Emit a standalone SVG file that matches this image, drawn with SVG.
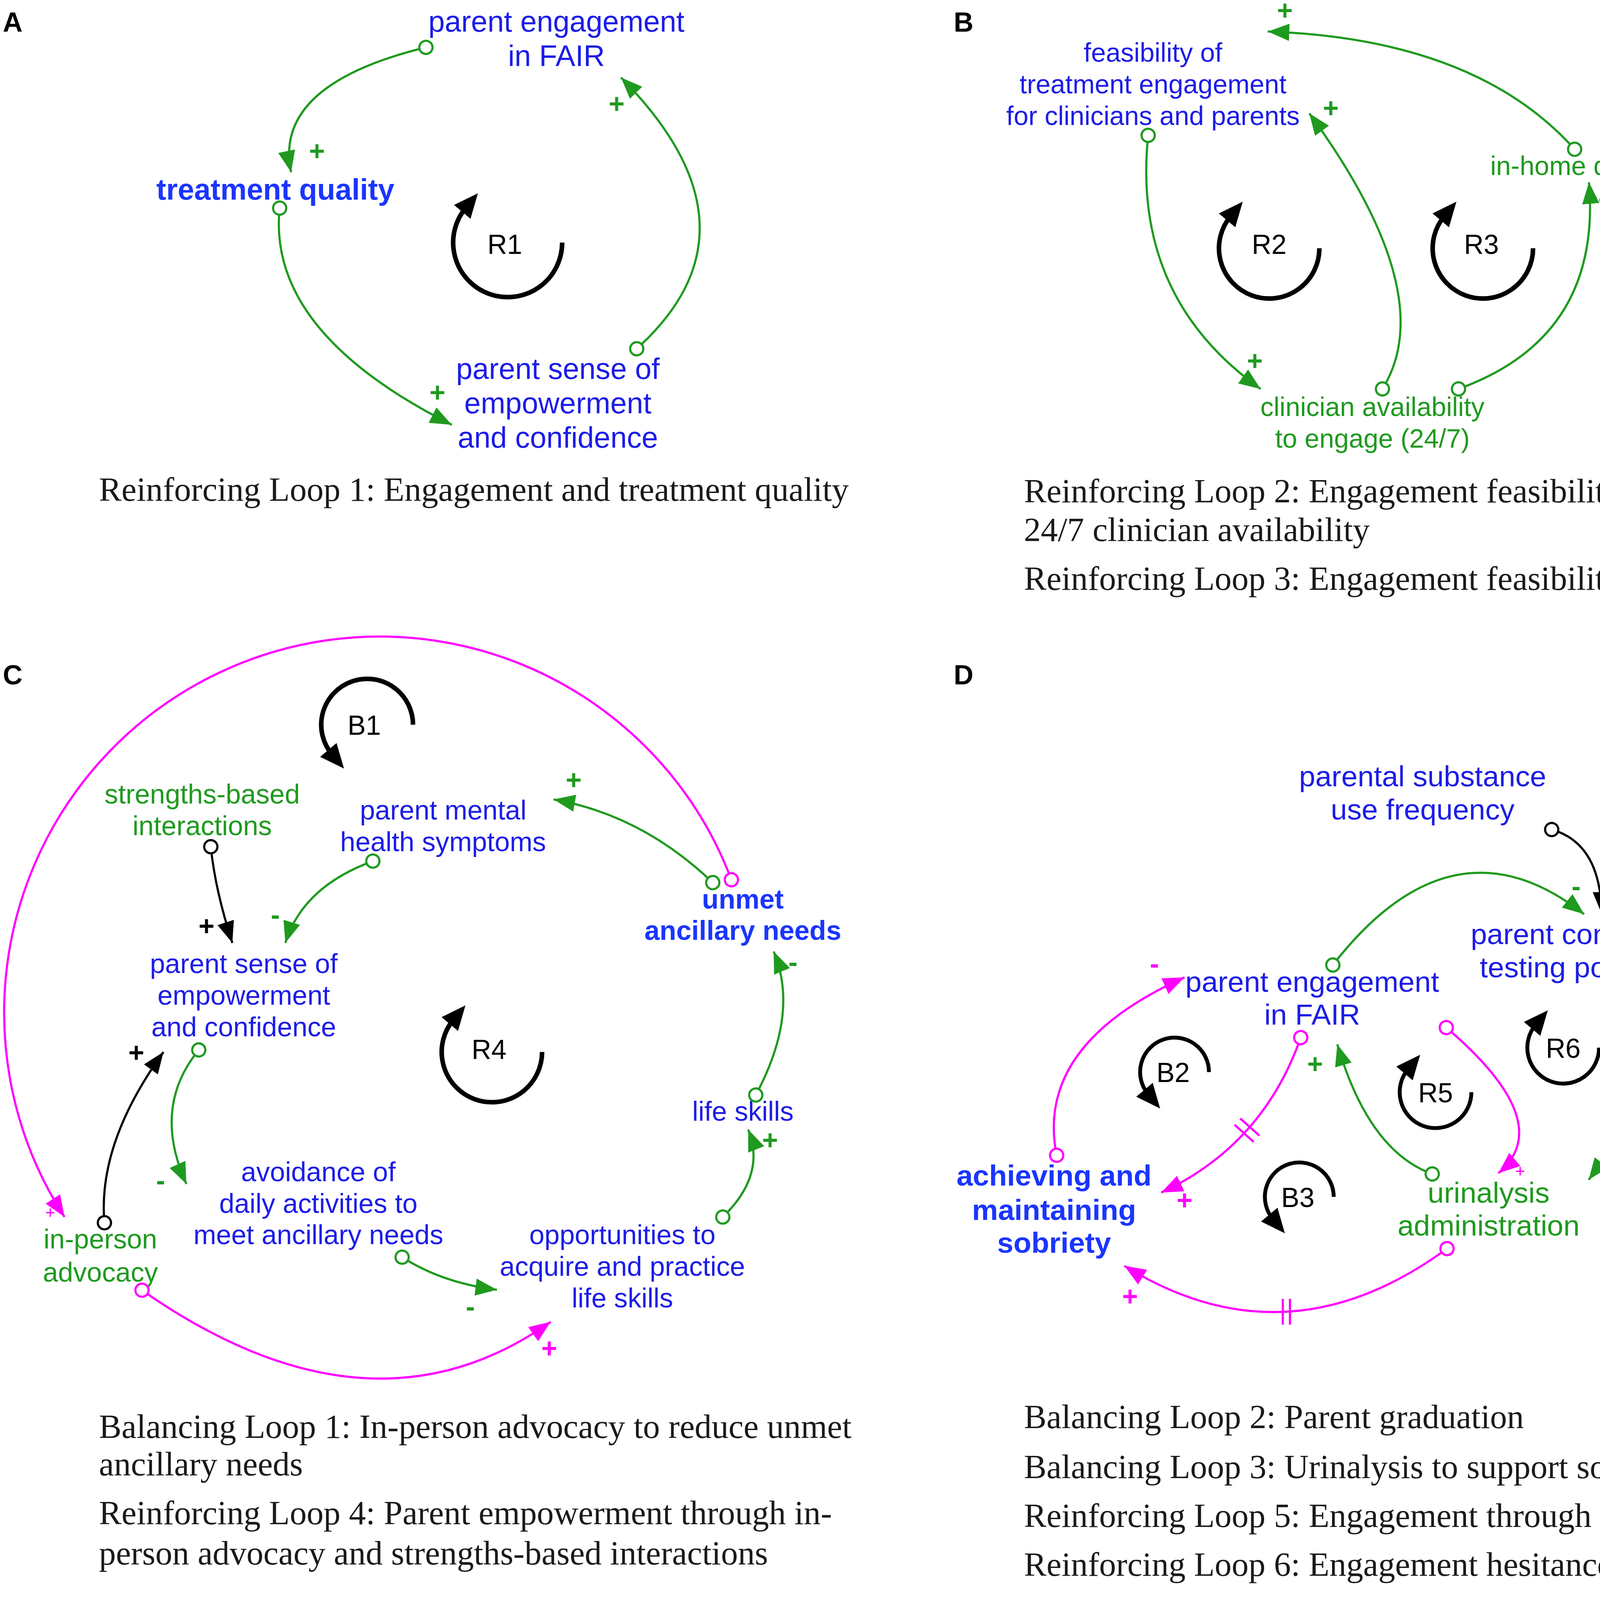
<svg xmlns="http://www.w3.org/2000/svg" width="4534" height="5761" viewBox="0 0 4534 5761">
<style>
.n{font-family:"Liberation Sans",Arial,sans-serif;text-anchor:middle}
.fa{font-size:20.6px}.fb{font-size:18.5px}.fc{font-size:19px}.fd{font-size:20.4px}.fe{font-size:18.6px}
.bl{fill:#1c1ce8}.bb{fill:#1a35ff;font-weight:bold}.gr{fill:#1f9a1f}
.cap{font-family:"Liberation Serif","Times New Roman",serif;font-size:23.6px;fill:#1a1a1a}
.pl{font-family:"Liberation Sans",Arial,sans-serif;font-size:19px;font-weight:bold;text-anchor:middle}
.ps{font-family:"Liberation Sans",Arial,sans-serif;font-size:12px;text-anchor:middle}
.pg{fill:#1f9a1f}.pm{fill:#ff00ff}.pk{fill:#000}
.lk{fill:none;stroke-width:1.5}
.g{stroke:#1f9a1f}.m{stroke:#ff00ff}.k{stroke:#000}
.lp{fill:none;stroke:#000;stroke-width:3.2;marker-end:url(#la)}
.lps{fill:none;stroke:#000;stroke-width:2.7;marker-end:url(#la)}
.lt{font-family:"Liberation Sans",Arial,sans-serif;font-size:19px;text-anchor:middle;fill:#000}
.pn{font-family:"Liberation Sans",Arial,sans-serif;font-size:19px;font-weight:bold;fill:#000}
</style>
<defs>
<marker id="ag" markerUnits="userSpaceOnUse" viewBox="0 0 15 12" markerWidth="15" markerHeight="12" refX="15" refY="6" orient="auto"><path d="M0,0 L15,6 L0,12 z" fill="#1f9a1f"/></marker>
<marker id="am" markerUnits="userSpaceOnUse" viewBox="0 0 15 12" markerWidth="15" markerHeight="12" refX="15" refY="6" orient="auto"><path d="M0,0 L15,6 L0,12 z" fill="#ff00ff"/></marker>
<marker id="ak" markerUnits="userSpaceOnUse" viewBox="0 0 15 12" markerWidth="15" markerHeight="12" refX="15" refY="6" orient="auto"><path d="M0,0 L15,6 L0,12 z" fill="#000"/></marker>
<marker id="cg" markerUnits="userSpaceOnUse" viewBox="0 0 12 12" markerWidth="12" markerHeight="12" refX="6" refY="6" orient="auto"><circle cx="6" cy="6" r="4.6" fill="#fff" stroke="#1f9a1f" stroke-width="1.5"/></marker>
<marker id="cm" markerUnits="userSpaceOnUse" viewBox="0 0 12 12" markerWidth="12" markerHeight="12" refX="6" refY="6" orient="auto"><circle cx="6" cy="6" r="4.6" fill="#fff" stroke="#ff00ff" stroke-width="1.5"/></marker>
<marker id="ck" markerUnits="userSpaceOnUse" viewBox="0 0 12 12" markerWidth="12" markerHeight="12" refX="6" refY="6" orient="auto"><circle cx="6" cy="6" r="4.6" fill="#fff" stroke="#000" stroke-width="1.5"/></marker>
<marker id="la" markerUnits="userSpaceOnUse" viewBox="0 0 17 15" markerWidth="17" markerHeight="15" refX="4" refY="7.5" orient="auto"><path d="M0,0 L17,7.5 L0,15 z" fill="#000"/></marker>
</defs>
<rect width="4534" height="5761" fill="#fff"/>
<g transform="scale(3.6713,3.674)">
<g id="panel-letters">
<text class="pn" x="2" y="22">A</text>
<text class="pn" x="665" y="22">B</text>
<text class="pn" x="2" y="477">C</text>
<text class="pn" x="665" y="477">D</text>
<text class="pn" x="2" y="1161">E</text>
</g>

<g id="a-engagement" class="n fa bl"><text x="388" y="22">parent engagement</text><text x="388" y="46">in FAIR</text></g>
<g id="a-treatment" class="n fa bb"><text x="192" y="139">treatment quality</text></g>
<g id="a-empowerment" class="n fa bl"><text x="389" y="264">parent sense of</text><text x="389" y="288">empowerment</text><text x="389" y="312">and confidence</text></g>
<g id="a-R1"><path class="lp" d="M392,169 A38,38 0 1 1 324.9,144.6"/><text class="lt" x="352" y="177">R1</text></g>
<g id="a-caption"><text class="cap" x="69" y="349">Reinforcing Loop 1: Engagement and treatment quality</text></g>

<g id="b-feasibility" class="n fb bl"><text x="804" y="43">feasibility of</text><text x="804" y="65">treatment engagement</text><text x="804" y="87">for clinicians and parents</text></g>
<g id="b-inhome" class="n fb gr"><text x="1107" y="122">in-home delivery</text></g>
<g id="b-clinician" class="n fb gr"><text x="957" y="290">clinician availability</text><text x="957" y="312">to engage (24/7)</text></g>
<g id="b-R2"><path class="lp" d="M920,173 A35,35 0 1 1 858.2,150.5"/><text class="lt" x="885" y="177">R2</text></g>
<g id="b-R3"><path class="lp" d="M1069,173 A35,35 0 1 1 1007.2,150.5"/><text class="lt" x="1033" y="177">R3</text></g>
<g id="b-caption"><text class="cap" x="714" y="350">Reinforcing Loop 2: Engagement feasibility through</text><text class="cap" x="714" y="377">24/7 clinician availability</text><text class="cap" x="714" y="411">Reinforcing Loop 3: Engagement feasibility</text></g>

<g id="c-strengths" class="n fc gr"><text x="141" y="560">strengths-based</text><text x="141" y="582">interactions</text></g>
<g id="c-mental" class="n fc bl"><text x="309" y="571">parent mental</text><text x="309" y="593">health symptoms</text></g>
<g id="c-unmet" class="n fc bb"><text x="518" y="633">unmet</text><text x="518" y="655">ancillary needs</text></g>
<g id="c-empowerment" class="n fc bl"><text x="170" y="678">parent sense of</text><text x="170" y="700">empowerment</text><text x="170" y="722">and confidence</text></g>
<g id="c-lifeskills" class="n fc bl"><text x="518" y="781">life skills</text></g>
<g id="c-avoidance" class="n fc bl"><text x="222" y="823">avoidance of</text><text x="222" y="845">daily activities to</text><text x="222" y="867">meet ancillary needs</text></g>
<g id="c-inperson" class="n fc gr"><text x="70" y="870">in-person</text><text x="70" y="893">advocacy</text></g>
<g id="c-opportunities" class="n fc bl"><text x="434" y="867">opportunities to</text><text x="434" y="889">acquire and practice</text><text x="434" y="911">life skills</text></g>
<g id="c-B1"><path class="lp" d="M288,505 A32,32 0 1 0 231.5,525.6"/><text class="lt" x="254" y="512">B1</text></g>
<g id="c-R4"><path class="lp" d="M378,733 A35,35 0 1 1 316.2,710.5"/><text class="lt" x="341" y="738">R4</text></g>
<g id="c-caption"><text class="cap" x="69" y="1002">Balancing Loop 1: In-person advocacy to reduce unmet</text><text class="cap" x="69" y="1028">ancillary needs</text><text class="cap" x="69" y="1062">Reinforcing Loop 4: Parent empowerment through in-</text><text class="cap" x="69" y="1090">person advocacy and strengths-based interactions</text></g>

<g id="d-substance" class="n fd bl"><text x="992" y="548">parental substance</text><text x="992" y="571">use frequency</text></g>
<g id="d-concerns" class="n fd bl"><text x="1127" y="658">parent concerns about</text><text x="1127" y="681">testing positive in UA</text></g>
<g id="d-engagement" class="n fd bl"><text x="915" y="691">parent engagement</text><text x="915" y="714">in FAIR</text></g>
<g id="d-sobriety" class="n fd bb"><text x="735" y="826">achieving and</text><text x="735" y="850">maintaining</text><text x="735" y="873">sobriety</text></g>
<g id="d-urinalysis" class="n fd gr"><text x="1038" y="838">urinalysis</text><text x="1038" y="861">administration</text></g>
<g id="d-B2"><path class="lps" d="M843,747 A24,24 0 1 0 800.6,762.4"/><text class="lt" x="818" y="754">B2</text></g>
<g id="d-B3"><path class="lps" d="M930,834 A24,24 0 1 0 887.6,849.4"/><text class="lt" x="905" y="841">B3</text></g>
<g id="d-R5"><path class="lps" d="M1026,761 A25,25 0 1 1 981.9,744.9"/><text class="lt" x="1001" y="768">R5</text></g>
<g id="d-R6"><path class="lps" d="M1115,730 A25,25 0 1 1 1070.9,713.9"/><text class="lt" x="1090" y="737">R6</text></g>
<g id="d-caption"><text class="cap" x="714" y="995">Balancing Loop 2: Parent graduation</text><text class="cap" x="714" y="1030">Balancing Loop 3: Urinalysis to support sobriety</text><text class="cap" x="714" y="1064">Reinforcing Loop 5: Engagement through urinalysis</text><text class="cap" x="714" y="1098">Reinforcing Loop 6: Engagement hesitance</text></g>

<g id="e-engagement" class="n fe bl"><text x="373" y="1162">parent engagement</text><text x="373" y="1183">in FAIR</text></g>
<g id="e-treatment" class="n fe bb"><text x="150" y="1229">treatment quality</text></g>
<g id="e-deficits" class="n fe bl"><text x="336" y="1279">parenting deficits</text></g>
<g id="e-welfare" class="n fe bl"><text x="534" y="1267">child welfare</text><text x="534" y="1289">(DHS)</text><text x="534" y="1311">involvement</text></g>
<g id="e-positive" class="n fe bb"><text x="438" y="1390">positive</text><text x="438" y="1411">parenting</text><text x="438" y="1433">practices</text></g>
<g id="e-mental" class="n fe bb"><text x="122" y="1422">parent mental</text><text x="122" y="1443">health symptoms</text></g>
<g id="e-R7"><path class="lp" d="M257,1342 A27,27 0 1 1 209.3,1324.6"/><text class="lt" x="230" y="1348">R7</text></g>
<g id="e-B4"><path class="lp" d="M446,1328 A27,27 0 1 0 398.3,1345.4"/><text class="lt" x="417" y="1334">B4</text></g>
<g id="e-caption"><text class="cap" x="69" y="1492">Balancing Loop 4: Positive parenting</text><text class="cap" x="69" y="1526">Reinforcing Loop 7: Parenting deficits exacerbating</text><text class="cap" x="69" y="1554">mental health symptoms</text></g>

<g id="connectors">
<path class="lk g" marker-start="url(#cg)" marker-end="url(#ag)" d="M297,33 Q190,59 203,120"/>
<path class="lk g" marker-start="url(#cg)" marker-end="url(#ag)" d="M195,145 Q186,231 315,296"/>
<path class="lk g" marker-start="url(#cg)" marker-end="url(#ag)" d="M444,243 Q537,159 433,54"/>
<text class="pl pg" x="221" y="112">+</text>
<text class="pl pg" x="305" y="280">+</text>
<text class="pl pg" x="430" y="79">+</text>
<path class="lk g" marker-start="url(#cg)" marker-end="url(#ag)" d="M800.6,94.3 Q789,207 879,271"/>
<path class="lk g" marker-start="url(#cg)" marker-end="url(#ag)" d="M964,271 Q1005,205 913,79"/>
<path class="lk g" marker-start="url(#cg)" marker-end="url(#ag)" d="M1017,271 Q1117,235 1108,127"/>
<path class="lk g" marker-start="url(#cg)" marker-end="url(#ag)" d="M1098,104 Q1029,27 884,22"/>
<text class="pl pg" x="875" y="258">+</text>
<text class="pl pg" x="928" y="82">+</text>
<text class="pl pg" x="1120" y="146">+</text>
<text class="pl pg" x="896" y="14">+</text>
<path class="lk m" marker-start="url(#cm)" marker-end="url(#am)" d="M510,613 A262,262 0 1 0 45,848"/>
<path class="lk g" marker-start="url(#cg)" marker-end="url(#ag)" d="M497,615 Q448,568 386,557"/>
<path class="lk g" marker-start="url(#cg)" marker-end="url(#ag)" d="M260,600 Q211,618 199,657"/>
<path class="lk k" marker-start="url(#ck)" marker-end="url(#ak)" d="M147,590 Q150,620 162,657"/>
<path class="lk g" marker-start="url(#cg)" marker-end="url(#ag)" d="M138.6,731.6 Q105.7,771.7 130,825"/>
<path class="lk k" marker-start="url(#ck)" marker-end="url(#ak)" d="M72.8,852 Q68,796.6 114,733"/>
<path class="lk g" marker-start="url(#cg)" marker-end="url(#ag)" d="M280.4,876 Q308.5,894 346.5,898.7"/>
<path class="lk m" marker-start="url(#cm)" marker-end="url(#am)" d="M99,899 Q258,1010 384,921"/>
<path class="lk g" marker-start="url(#cg)" marker-end="url(#ag)" d="M504,848 Q534.4,818.6 521.7,787"/>
<path class="lk g" marker-start="url(#cg)" marker-end="url(#ag)" d="M527,763 Q557.5,706 539.5,663"/>
<text class="ps pm" x="35" y="849">+</text>
<text class="pl pg" x="400" y="550">+</text>
<text class="pl pg" x="192" y="644">-</text>
<text class="pl pk" x="144" y="652">+</text>
<text class="pl pg" x="112" y="829">-</text>
<text class="pl pk" x="95" y="740">+</text>
<text class="pl pg" x="328" y="917">-</text>
<text class="pl pm" x="383" y="946">+</text>
<text class="pl pg" x="537" y="801">+</text>
<text class="pl pg" x="553" y="677">-</text>
<path class="lk k" marker-start="url(#ck)" marker-end="url(#ak)" d="M1082,578 Q1116,587.6 1116.8,636.5"/>
<path class="lk g" marker-start="url(#cg)" marker-end="url(#ag)" d="M929.4,672.4 Q1013,565 1104.6,637"/>
<path class="lk g" marker-start="url(#cg)" marker-end="url(#ag)" d="M1137.3,688 Q1167.5,742 1107.8,822"/>
<path class="lk m" marker-start="url(#cm)" marker-end="url(#am)" d="M1008.5,716 Q1086.5,782.5 1044.8,817.5"/>
<path class="lk g" marker-start="url(#cg)" marker-end="url(#ag)" d="M998.7,818 Q954.4,802 932.5,727.7"/>
<path class="lk m" marker-start="url(#cm)" marker-end="url(#am)" d="M907,723 Q880.6,798 809.7,831"/>
<path class="lk m" marker-start="url(#cm)" marker-end="url(#am)" d="M736.8,805 Q721.3,728 826,681"/>
<path class="lk m" marker-start="url(#cm)" marker-end="url(#am)" d="M1009,870 Q897,952 784,882"/>
<path class="lk m" d="M860.8,783.7 L874.2,795.7 M864.8,779.3 L878.2,791.3"/>
<path class="lk m" d="M894.5,905 L894.5,923 M899.5,905 L899.5,923"/>
<text class="pl pk" x="1131" y="630">+</text>
<text class="pl pg" x="1099" y="624">-</text>
<text class="pl pg" x="1127" y="828">-</text>
<text class="ps pm" x="1060" y="820">+</text>
<text class="pl pg" x="917" y="748">+</text>
<text class="pl pm" x="826" y="843">+</text>
<text class="pl pm" x="805" y="678">-</text>
<text class="pl pm" x="788" y="910">+</text>
<path class="lk m" marker-start="url(#cm)" marker-end="url(#am)" d="M289.4,1157 Q189,1165.6 170,1211"/>
<path class="lk m" marker-start="url(#cm)" marker-end="url(#am)" d="M527.7,1247.5 Q521.6,1198 461,1158"/>
<path class="lk m" marker-start="url(#cm)" marker-end="url(#am)" d="M135,1235.5 Q50.7,1332.5 102.4,1403.4"/>
<path class="lk g" marker-start="url(#cg)" marker-end="url(#ag)" d="M264.6,1283 Q130.5,1326.4 135.9,1403.4"/>
<path class="lk g" marker-start="url(#cg)" marker-end="url(#ag)" d="M187,1404.3 Q280.2,1352 323.7,1286.7"/>
<path class="lk k" marker-start="url(#ck)" marker-end="url(#ak)" d="M410.3,1277.4 Q445,1278 481.2,1280.8"/>
<path class="lk m" marker-start="url(#cm)" marker-end="url(#am)" d="M200.8,1449 Q282.7,1472 393.8,1427.2"/>
<path class="lk m" marker-start="url(#cm)" marker-end="url(#am)" d="M484.4,1395 Q537.2,1373.3 536.4,1320.8"/>
<text class="pl pm" x="161" y="1200">+</text>
<text class="pl pm" x="474" y="1158">+</text>
<text class="pl pm" x="84" y="1402">-</text>
<text class="pl pg" x="122" y="1393">+</text>
<text class="pl pg" x="333" y="1310">+</text>
<text class="pl pk" x="468" y="1271">+</text>
<text class="pl pm" x="388" y="1451">-</text>
<text class="pl pm" x="549" y="1339">-</text>
</g>
</g>
</svg>
